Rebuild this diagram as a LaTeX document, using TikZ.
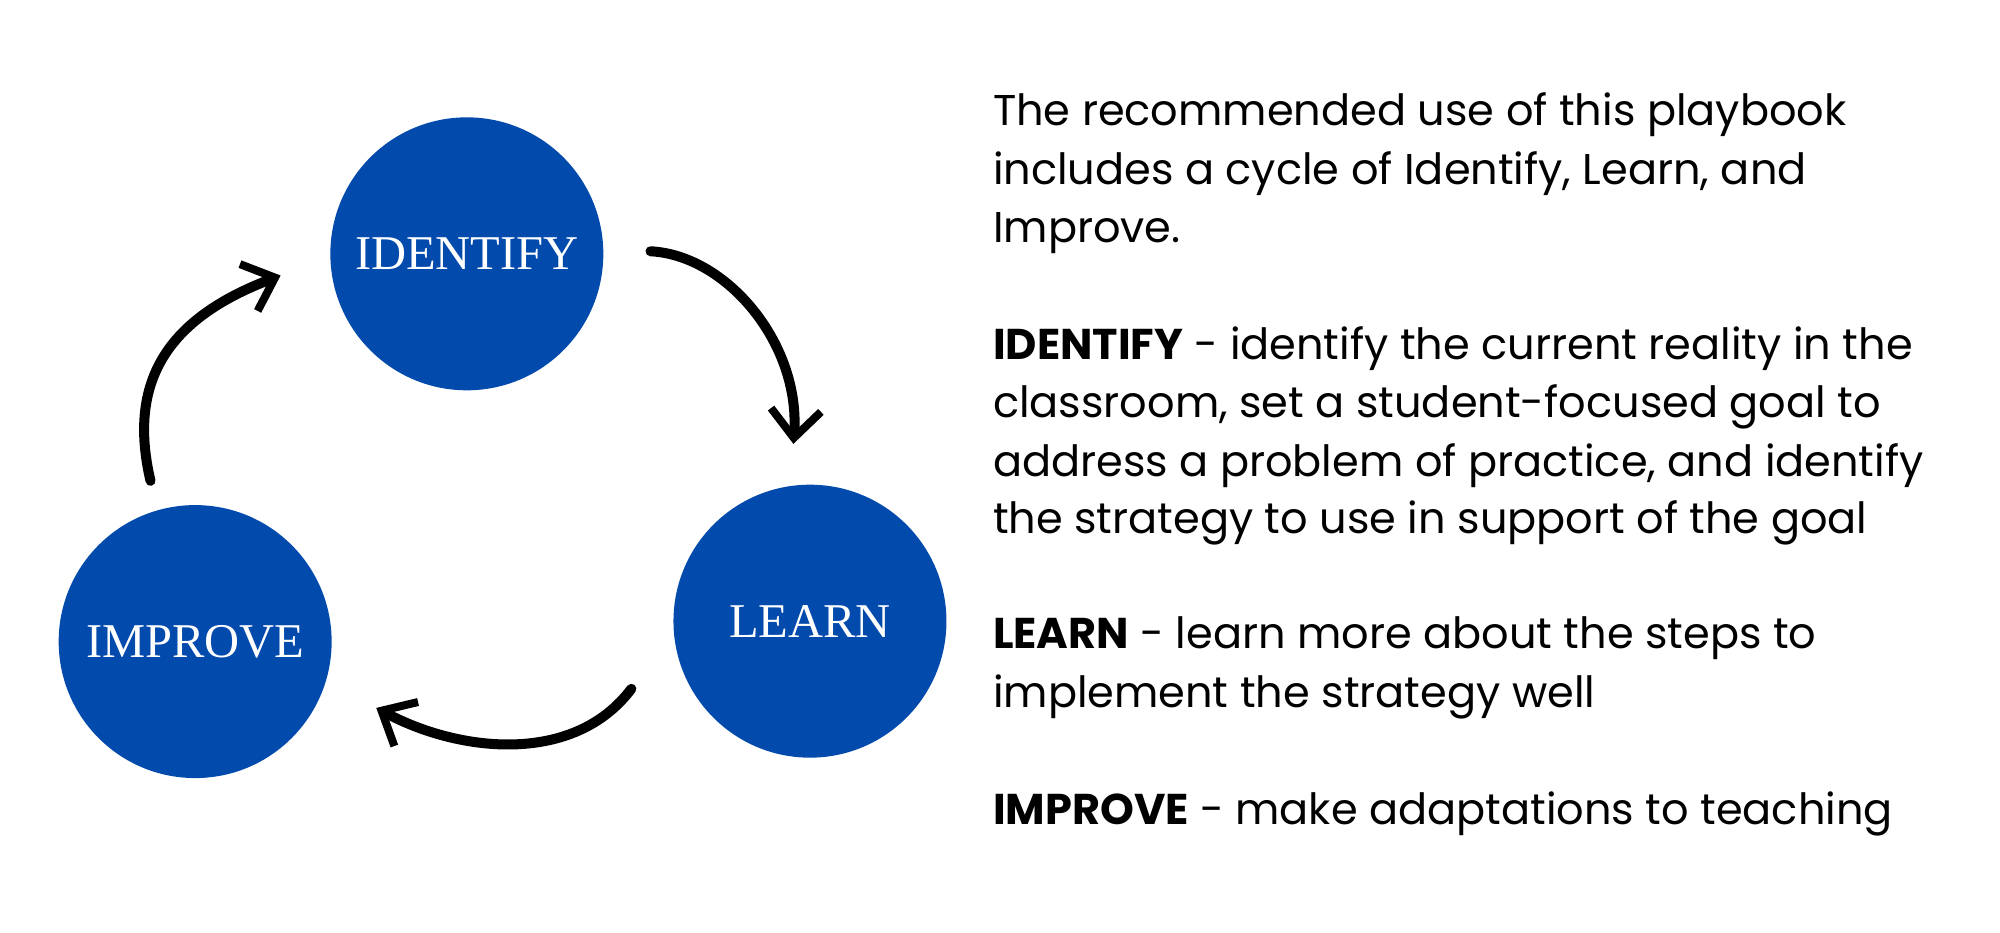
\documentclass[tikz,border=0pt]{standalone}
\usepackage{fontspec}
\setmainfont{Poppins}
\newfontfamily\circfont{Liberation Serif}
\usetikzlibrary{arrows.meta}
\definecolor{cblue}{HTML}{034AAD}
\begin{document}
\begin{tikzpicture}[x=0.012755cm,y=-0.012755cm,
  circ/.style={circle,fill=cblue,minimum size=2.73cm,inner sep=0pt,text=white,font=\circfont\fontsize{13.8}{15}\selectfont},
  arr/.style={line width=0.1cm,line cap=round,-{Straight Barb[length=0.28cm,width=0.5cm,line width=0.08cm]}},
  txt/.style={anchor=west,inner sep=0pt,font=\fontsize{12.25}{15}\selectfont}]
\useasboundingbox (0,0) rectangle (1568,731);
\node[circ] (id) at (366,199) {IDENTIFY};
\node[circ] (le) at (635,487) {LEARN};
\node[circ] (im) at (153,503) {IMPROVE};
\coordinate (a1s) at (510,197); \coordinate (a1e) at (622,348);
\coordinate (a2s) at (495,540); \coordinate (a2e) at (295,555);
\coordinate (a3s) at (118,377); \coordinate (a3e) at (220,216);
\draw[arr] (a1s) .. controls (570,200) and (628,270) .. (a1e);
\draw[arr] (a2s) .. controls (450,600) and (360,590) .. (a2e);
\draw[arr] (a3s) .. controls (100,300) and (130,250) .. (a3e);
\node[txt] (t1) at (778,90) {The recommended use of this playbook};
\node[txt] (t2) at (778,136) {includes a cycle of Identify, Learn, and};
\node[txt] (t3) at (778,183) {Improve.};
\node[txt] (t4) at (778,273) {\textbf{IDENTIFY} - identify the current reality in the};
\node[txt] (t5) at (778,319) {classroom, set a student-focused goal to};
\node[txt] (t6) at (778,365) {address a problem of practice, and identify};
\node[txt] (t7) at (778,410) {the strategy to use in support of the goal};
\node[txt] (t8) at (778,500) {\textbf{LEARN} - learn more about the steps to};
\node[txt] (t9) at (778,546) {implement the strategy well};
\node[txt] (t10) at (778,638) {\textbf{IMPROVE} - make adaptations to teaching};
\end{tikzpicture}
\end{document}
